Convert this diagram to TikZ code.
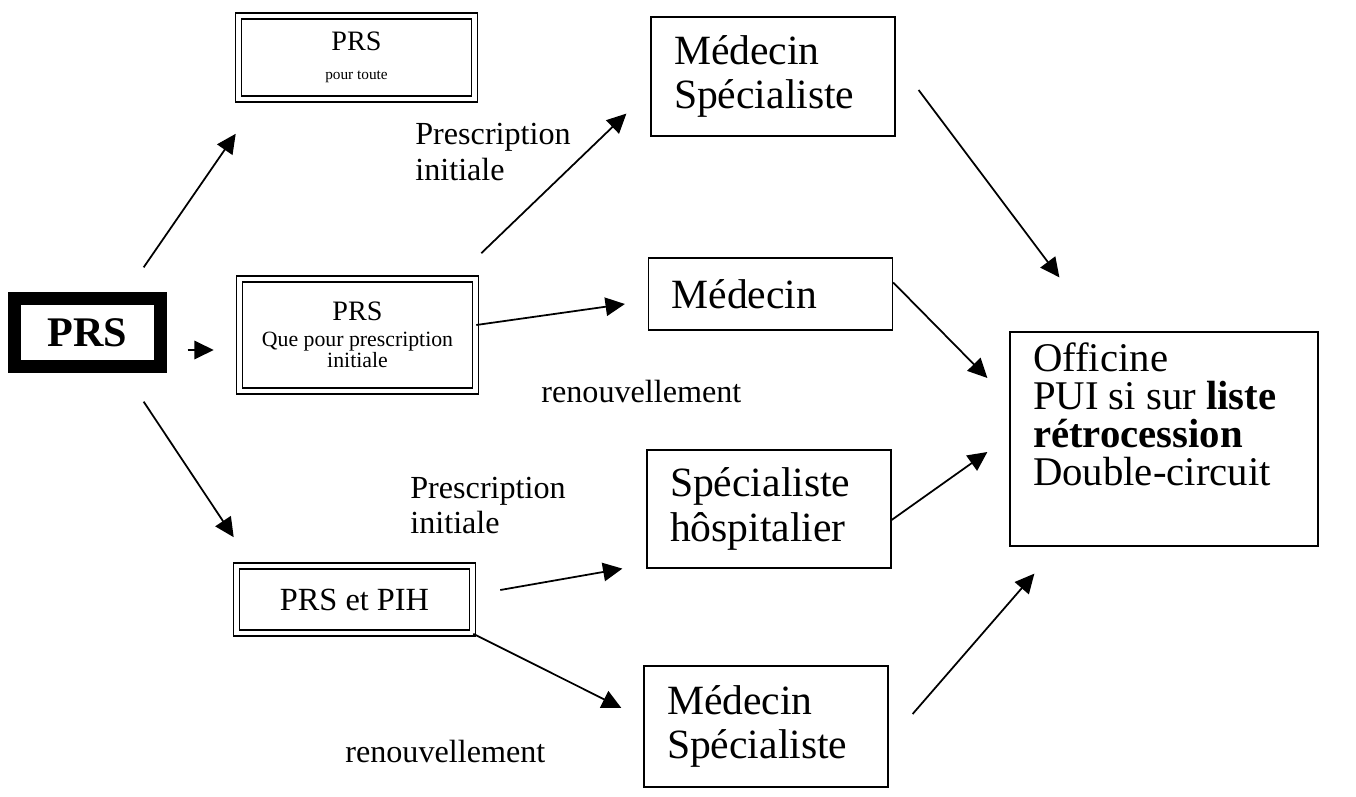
\documentclass[tikz,border=0pt]{standalone}
\usepackage{fontspec}
\setmainfont{Liberation Serif}
\usetikzlibrary{arrows.meta}

\begin{document}
\begin{tikzpicture}[
  x=1cm, y=1cm,
  every node/.style={inner sep=0pt},
  root/.style={draw, line width=7pt, minimum width=2.92cm, minimum height=1.36cm,
    font=\bfseries\fontsize{24}{26}\selectfont},
  dbox/.style={draw, double, double distance=2.6pt, line width=0.9pt, align=center, minimum width=4.72cm},
  box/.style={draw, line width=0.7pt, align=left, inner xsep=0.46cm, text width=3.96cm,
    font=\fontsize{23.7}{25.5}\selectfont},
  lbl/.style={align=left, font=\fontsize{18.3}{20.2}\selectfont},
  arrow/.style={draw, line width=1pt, -{Triangle[length=11pt, width=10.5pt]}}]

  \useasboundingbox (0,0) rectangle (27.12,15.92);

  % left column
  \node[root] (prs) at (1.75, 9.27) {PRS};

  \node[dbox, minimum height=1.66cm, font=\fontsize{16}{16.5}\selectfont] (prsA) at (7.13, 14.77)
    {PRS\\{\fontsize{8.7}{10}\selectfont pour toute}};
  \node[dbox, minimum height=2.24cm, font=\fontsize{16}{15}\selectfont] (prsB) at (7.15, 9.22)
    {PRS\\{\fontsize{12.4}{12}\selectfont Que pour prescription}\\[-3pt]{\fontsize{12.4}{12}\selectfont initiale}};
  \node[dbox, minimum height=1.34cm, font=\fontsize{18.4}{20}\selectfont] (prsC) at (7.09, 3.93)
    {PRS et PIH};

  % middle column
  \node[box, minimum height=2.38cm] (medA)  at (15.46, 14.39) {Médecin\\Spécialiste};
  \node[box, minimum height=1.44cm] (medB)  at (15.41, 10.04) {Médecin};
  \node[box, minimum height=2.36cm] (specH) at (15.38, 5.74)  {Spécialiste\\hôspitalier};
  \node[box, minimum height=2.42cm] (medC)  at (15.32, 1.39)  {Médecin\\Spécialiste};

  \node[draw, line width=0.7pt, inner xsep=0.46cm, inner ysep=0.22cm] (off) at (23.28, 7.14)
    {\fontsize{23.2}{21.5}\selectfont\parbox[c][3.84cm][t]{5.24cm}{\raggedright
      Officine\\PUI si sur \textbf{liste}\\\textbf{rétrocession}\\Double-circuit}};

  % labels
  \node[lbl, anchor=west] (piA) at (8.30, 12.88) {Prescription\\initiale};
  \node[lbl, anchor=base west] (renA) at (10.82, 7.88) {renouvellement};
  \node[lbl, anchor=west] (piB) at (8.20, 5.81) {Prescription\\initiale};
  \node[lbl, anchor=base west] (renB) at (6.90, 0.68) {renouvellement};

  % arrows
  \draw[arrow] ([shift={(-0.46,0.50)}]prs.north east) -- ([shift={(-0.04,-0.68)}]prsA.south west);
  \draw[arrow] ([shift={(0.42,-0.35)}]prs.east) -- ([shift={(-0.50,-0.30)}]prsB.west);
  \draw[arrow] ([shift={(-0.46,-0.58)}]prs.south east) -- ([shift={(-0.04,0.56)}]prsC.north west);

  \draw[arrow] ([shift={(0.10,0.50)}]prsB.north east) -- ([shift={(-0.48,0.46)}]medA.south west);
  \draw[arrow] ([yshift=0.20cm]prsB.east) -- ([shift={(-0.46,-0.20)}]medB.west);
  \draw[arrow] ([shift={(0.54,0.19)}]prsC.east) -- ([xshift=-0.48cm]specH.south west);
  \draw[arrow] (prsC.south east) -- ([shift={(-0.44,0.37)}]medC.west);

  \draw[arrow] ([shift={(0.46,-0.27)}]medA.east) -- ([shift={(1.00,1.08)}]off.north west);
  \draw[arrow] ([yshift=-0.50cm]medB.north east) -- ([shift={(-0.44,1.22)}]off.west);
  \draw[arrow] ([yshift=-0.22cm]specH.east) -- ([shift={(-0.44,-0.26)}]off.west);
  \draw[arrow] ([shift={(0.48,0.25)}]medC.east) -- ([shift={(0.50,-0.54)}]off.south west);

\end{tikzpicture}
\end{document}
